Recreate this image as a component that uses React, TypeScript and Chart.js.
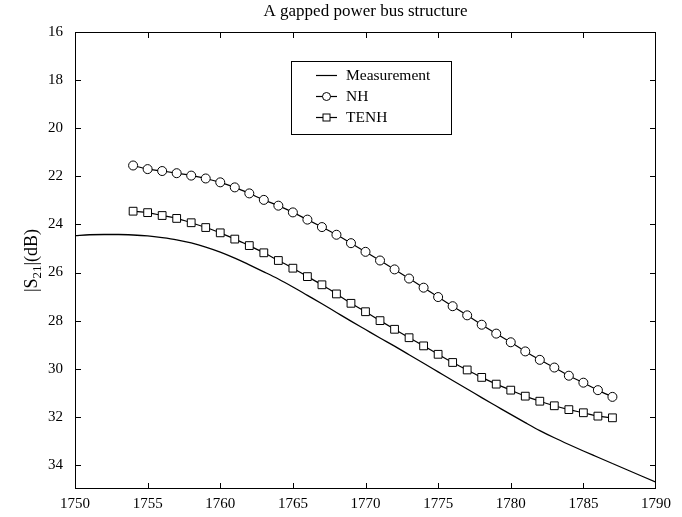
import React, { useEffect, useRef } from "react";
import { Chart, registerables } from "chart.js";

Chart.register(...registerables);

const TITLE = "A gapped power bus structure";
const Y_LABEL_MAIN = "|S";
const Y_LABEL_SUB = "21";
const Y_LABEL_END = "|(dB)";

const freqMeasurement = [
  1750, 1751, 1752, 1753, 1754, 1755, 1756, 1757, 1758, 1759, 1760, 1761, 1762, 1763,
  1764, 1765, 1766, 1767, 1768, 1769, 1770, 1771, 1772, 1773, 1774, 1775, 1776, 1777,
  1778, 1779, 1780, 1781, 1782, 1783, 1784, 1785, 1786, 1787, 1788, 1789, 1790,
];
const measurement = [
  24.47, 24.43, 24.42, 24.42, 24.44, 24.48, 24.55, 24.64, 24.77, 24.94, 25.15, 25.4, 25.68,
  25.97, 26.27, 26.6, 26.95, 27.3, 27.66, 28.02, 28.37, 28.72, 29.06, 29.42, 29.77, 30.13,
  30.49, 30.84, 31.2, 31.55, 31.9, 32.24, 32.57, 32.87, 33.15, 33.42, 33.68, 33.94, 34.2,
  34.46, 34.72,
];

const freqModel = [
  1754, 1755, 1756, 1757, 1758, 1759, 1760, 1761, 1762, 1763, 1764, 1765, 1766, 1767,
  1768, 1769, 1770, 1771, 1772, 1773, 1774, 1775, 1776, 1777, 1778, 1779, 1780, 1781,
  1782, 1783, 1784, 1785, 1786, 1787,
];
const nh = [
  21.55, 21.7, 21.78, 21.87, 21.97, 22.09, 22.25, 22.46, 22.71, 22.98, 23.22, 23.5, 23.8,
  24.11, 24.43, 24.78, 25.14, 25.5, 25.87, 26.25, 26.63, 27.02, 27.4, 27.78, 28.17, 28.54,
  28.9, 29.28, 29.63, 29.95, 30.29, 30.58, 30.89, 31.17,
];
const tenh = [
  23.45, 23.51, 23.63, 23.75, 23.93, 24.13, 24.35, 24.61, 24.88, 25.18, 25.5, 25.82, 26.17,
  26.51, 26.89, 27.28, 27.63, 28.0, 28.36, 28.71, 29.05, 29.4, 29.74, 30.05, 30.36, 30.64,
  30.89, 31.14, 31.35, 31.54, 31.7, 31.83, 31.97, 32.04,
];

const X_MIN = 1750;
const X_MAX = 1790;
const X_STEP = 5;
const Y_MIN = 16;
const Y_MAX = 35;
const Y_STEP = 2;

const FONT = "'Liberation Serif', 'Times New Roman', serif";

const frameAndDecor = {
  id: "frameAndDecor",
  afterDraw(chart: any) {
    const { ctx, chartArea } = chart;
    const { left, right, top, bottom } = chartArea;
    const xs = chart.scales.x;
    const ys = chart.scales.y;
    ctx.save();
    ctx.strokeStyle = "#000";
    ctx.lineWidth = 1;
    ctx.strokeRect(left + 0.5, top + 0.5, right - left - 1, bottom - top - 1);
    const tl = 6;
    ctx.beginPath();
    xs.ticks.forEach((t: any) => {
      const px = Math.round(xs.getPixelForValue(t.value)) + 0.5;
      if (t.value === X_MIN || t.value === X_MAX) return;
      ctx.moveTo(px, bottom);
      ctx.lineTo(px, bottom - tl);
      ctx.moveTo(px, top);
      ctx.lineTo(px, top + tl);
    });
    ys.ticks.forEach((t: any) => {
      const py = Math.round(ys.getPixelForValue(t.value)) + 0.5;
      if (t.value === Y_MIN || t.value === Y_MAX) return;
      ctx.moveTo(left, py);
      ctx.lineTo(left + tl, py);
      ctx.moveTo(right, py);
      ctx.lineTo(right - tl, py);
    });
    ctx.stroke();

    // Title
    ctx.fillStyle = "#000";
    ctx.font = `17px ${FONT}`;
    ctx.textAlign = "center";
    ctx.textBaseline = "middle";
    ctx.fillText(TITLE, (left + right) / 2, 12);

    // Y axis label with subscript
    ctx.save();
    ctx.translate(30, (top + bottom) / 2);
    ctx.rotate(-Math.PI / 2);
    ctx.textBaseline = "alphabetic";
    ctx.textAlign = "left";
    ctx.font = `18px ${FONT}`;
    const w1 = ctx.measureText(Y_LABEL_MAIN).width;
    const w3 = ctx.measureText(Y_LABEL_END).width;
    ctx.font = `13px ${FONT}`;
    const w2 = ctx.measureText(Y_LABEL_SUB).width;
    const total = w1 + w2 + w3;
    let x0 = -total / 2;
    const base = 7;
    ctx.font = `18px ${FONT}`;
    ctx.fillText(Y_LABEL_MAIN, x0, base);
    x0 += w1;
    ctx.font = `13px ${FONT}`;
    ctx.fillText(Y_LABEL_SUB, x0, base + 4);
    x0 += w2;
    ctx.font = `18px ${FONT}`;
    ctx.fillText(Y_LABEL_END, x0, base);
    ctx.restore();

    // Legend
    const lx = 291, ly = 61, lw = 160, lh = 73;
    ctx.fillStyle = "#fff";
    ctx.fillRect(lx, ly, lw, lh);
    ctx.strokeStyle = "#000";
    ctx.strokeRect(lx + 0.5, ly + 0.5, lw, lh);
    const rows = [75, 96, 117];
    ctx.font = `15.5px ${FONT}`;
    ctx.textAlign = "left";
    ctx.textBaseline = "middle";
    chart.data.datasets.forEach((ds: any, i: number) => {
      const y = rows[i];
      ctx.strokeStyle = "#000";
      ctx.lineWidth = 1.2;
      ctx.beginPath();
      ctx.moveTo(316, y + 0.5);
      ctx.lineTo(337, y + 0.5);
      ctx.stroke();
      if (ds.pointStyle === "circle") {
        ctx.beginPath();
        ctx.arc(326.5, y + 0.5, 4, 0, Math.PI * 2);
        ctx.fillStyle = "#fff";
        ctx.fill();
        ctx.lineWidth = 1;
        ctx.stroke();
      } else if (ds.pointStyle === "rect") {
        ctx.fillStyle = "#fff";
        ctx.fillRect(323, y - 3, 7, 7);
        ctx.lineWidth = 1;
        ctx.strokeRect(323, y - 3, 7, 7);
      }
      ctx.fillStyle = "#000";
      ctx.fillText(ds.label, 346, y + 1);
    });
    ctx.restore();
  },
};

export default function App() {
  const ref = useRef<HTMLCanvasElement>(null);
  useEffect(() => {
    if (!ref.current) return;
    const chart = new Chart(ref.current, {
      type: "line",
      data: {
        datasets: [
          {
            label: "Measurement",
            data: freqMeasurement.map((f, i) => ({ x: f, y: measurement[i] })),
            borderColor: "#000",
            borderWidth: 1.3,
            pointRadius: 0,
            pointStyle: false as any,
            cubicInterpolationMode: "monotone",
          },
          {
            label: "NH",
            data: freqModel.map((f, i) => ({ x: f, y: nh[i] })),
            borderColor: "#000",
            borderWidth: 1.2,
            pointStyle: "circle",
            pointRadius: 4.5,
            pointBackgroundColor: "#fff",
            pointBorderColor: "#000",
            pointBorderWidth: 1,
            cubicInterpolationMode: "monotone",
          },
          {
            label: "TENH",
            data: freqModel.map((f, i) => ({ x: f, y: tenh[i] })),
            borderColor: "#000",
            borderWidth: 1.2,
            pointStyle: "rect",
            pointRadius: 5.5,
            pointBackgroundColor: "#fff",
            pointBorderColor: "#000",
            pointBorderWidth: 1,
            cubicInterpolationMode: "monotone",
          },
        ],
      },
      options: {
        animation: false,
        responsive: false,
        devicePixelRatio: 1,
        layout: { padding: { top: 32, right: 26, left: 0, bottom: 0 } },
        plugins: {
          legend: { display: false },
          tooltip: { enabled: false },
          title: { display: false },
        },
        scales: {
          x: {
            type: "linear",
            min: X_MIN,
            max: X_MAX,
            grid: { display: false, drawTicks: false },
            border: { display: false },
            ticks: {
              stepSize: X_STEP,
              padding: 6,
              color: "#000",
              font: { family: FONT, size: 15 },
              maxRotation: 0,
              callback: (v: any) => String(v),
            },
            afterFit: (s: any) => {
              s.height = 28;
            },
          },
          y: {
            type: "linear",
            reverse: true,
            min: Y_MIN,
            max: Y_MAX,
            grid: { display: false, drawTicks: false },
            border: { display: false },
            ticks: {
              stepSize: Y_STEP,
              includeBounds: false,
              padding: 12,
              color: "#000",
              font: { family: FONT, size: 15 },
              callback: (v: any) => String(v),
            },
            afterFit: (s: any) => {
              s.width = 75;
            },
          },
        },
      },
      plugins: [frameAndDecor],
    });
    return () => chart.destroy();
  }, []);
  return (
    <div style={{ position: "absolute", left: 0, top: 0, width: 682, height: 517, background: "#fff" }}>
      <canvas ref={ref} width={682} height={517} />
    </div>
  );
}
